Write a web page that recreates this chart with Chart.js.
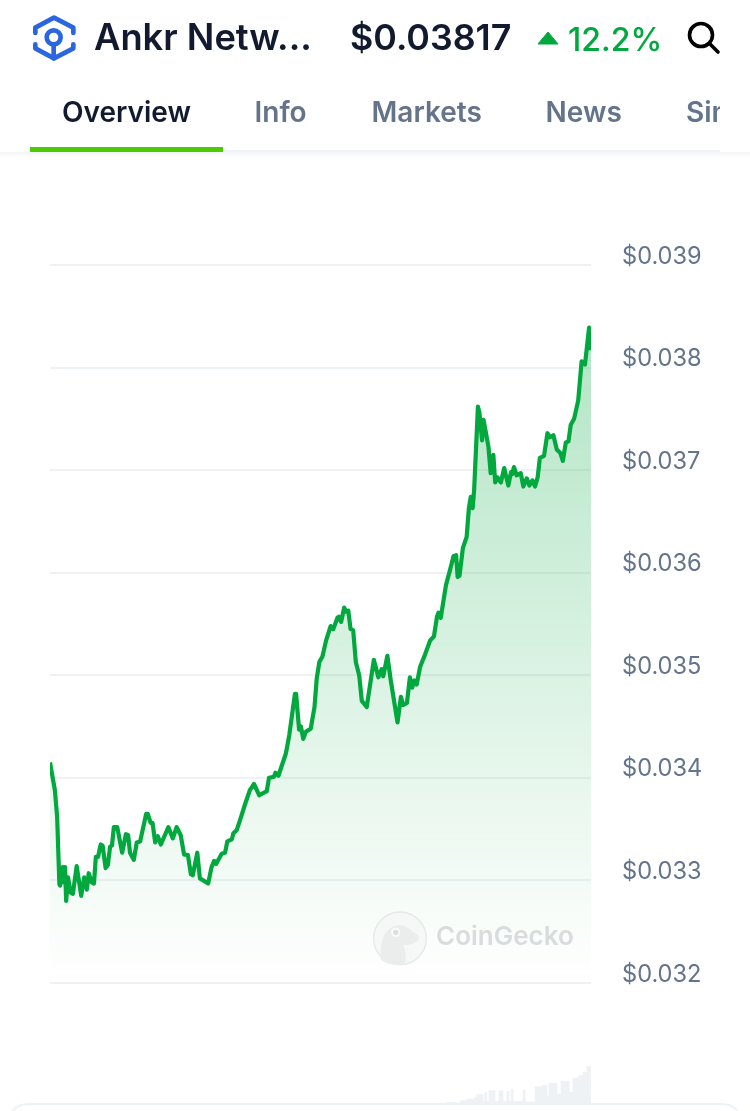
<!DOCTYPE html>
<html>
<head>
<meta charset="utf-8">
<title>Ankr Network</title>
<script src="https://cdn.jsdelivr.net/npm/chart.js@4/dist/chart.umd.min.js"></script>
<style>
  html, body { margin: 0; padding: 0; background: #fff; }
  body { width: 750px; height: 1111px; position: relative; overflow: hidden; font-family: Inter, sans-serif; }
  .abs { position: absolute; white-space: nowrap; }
  #chartBox { position: absolute; left: 0; top: 0; width: 750px; height: 1111px; }
  .tab { position: absolute; top: 95px; font-size: 28px; line-height: 34px; font-weight: 600; color: #64748b; white-space: nowrap; }
  #tabClip { position: absolute; left: 0; top: 0; width: 720px; height: 150px; overflow: hidden; }
  #headLine { position: absolute; left: 30px; top: 150px; width: 690px; height: 2px; background: #eff2f5; }
  #headShadow { position: absolute; left: 0; top: 152px; width: 750px; height: 6px; background: linear-gradient(#f3f4f6, #fff); }
  #activeLine { position: absolute; left: 30px; top: 147px; width: 193px; height: 5px; background: #4bcc00; }
  #bottomCard { position: absolute; left: 6px; top: 1103px; width: 734px; height: 40px; border: 2px solid #eff2f5; border-radius: 24px; background: #fff; }
</style>
</head>
<body>
<div id="chartBox"><canvas id="priceChart"></canvas></div>

<svg class="abs" style="left:20px;top:5px" width="70" height="70" viewBox="0 0 210 210" fill="none" stroke="#2b66e0" stroke-width="14" stroke-linecap="round" stroke-linejoin="round">
  <path d="M46 84V68L102 38L160 68V84"/>
  <path d="M46 118V130L102 160L160 130V118"/>
  <circle cx="101" cy="97" r="21"/>
  <path d="M101 118V160"/>
</svg>
<div class="abs" style="left:94px;top:15px;font-size:36.3px;line-height:44px;font-weight:600;color:#111a2e">Ankr Netw...</div>
<div class="abs" style="left:350px;top:15px;font-size:35.8px;line-height:44px;font-weight:600;color:#111a2e">$0.03817</div>
<svg class="abs" style="left:537px;top:31px" width="22" height="14" viewBox="0 0 22 14"><path d="M11 1L21 13H1Z" fill="#00a83e" stroke="#00a83e" stroke-width="1" stroke-linejoin="round"/></svg>
<div class="abs" style="left:568px;top:20px;font-size:32px;line-height:40px;font-weight:500;color:#00a83e">12.2%</div>
<svg class="abs" style="left:685px;top:20px" width="36" height="36" viewBox="0 0 36 36" fill="none" stroke="#000" stroke-width="3.6" stroke-linecap="round"><circle cx="16" cy="15" r="11.5"/><path d="M24.5 23.5L33 32"/></svg>

<div id="tabClip">
  <div class="tab" style="left:62px;color:#111a2e">Overview</div>
  <div class="tab" style="left:254.5px">Info</div>
  <div class="tab" style="left:371.5px">Markets</div>
  <div class="tab" style="left:545.5px">News</div>
  <div class="tab" style="left:686px">Simulator</div>
</div>
<div id="headShadow"></div>
<div id="headLine"></div>
<div id="activeLine"></div>

<svg class="abs" style="left:365px;top:905px" width="70" height="65" viewBox="0 0 210 195">
  <circle cx="105" cy="100" r="79" fill="#f4f6f5" fill-opacity="0.75" stroke="#e6e8e8" stroke-width="4"/>
  <path d="M47 162C45 112 56 72 90 62C115 55 130 70 150 85C166 92 166 106 150 113C132 122 122 118 115 120C125 145 124 168 118 178C92 182 62 178 47 162Z" fill="#ebeded"/>
  <circle cx="92" cy="82" r="14" fill="#f8f9f9"/>
  <circle cx="92" cy="82" r="8" fill="#dcdfdf"/>
</svg>
<div class="abs" style="left:436px;top:919px;font-size:26px;line-height:34px;font-weight:600;color:#d9dcdc">CoinGecko</div>

<div id="bottomCard"></div>

<script>
// minutes since the start of the 24h window
const times = [0, 13, 19, 25, 27, 34, 37, 40, 43, 48, 55, 61, 71, 83, 91, 98, 103, 111, 117, 122, 128, 135, 140, 148, 154, 160, 165, 170, 179, 192, 202, 208, 213, 223, 231, 240, 256, 260, 268, 273, 280, 287, 295, 315, 327, 337, 348, 357, 367, 375, 380, 392, 399, 421, 430, 437, 442, 457, 466, 472, 484, 488, 497, 506, 519, 532, 543, 557, 577, 583, 596, 600, 608, 628, 637, 652, 655, 663, 668, 674, 681, 694, 704, 710, 717, 725, 735, 747, 754, 765, 769, 775, 783, 788, 794, 800, 807, 814, 823, 830, 843, 862, 874, 883, 887, 898, 907, 925, 934, 940, 950, 958, 964, 970, 976, 985, 998, 1012, 1022, 1030, 1034, 1040, 1054, 1065, 1074, 1081, 1085, 1090, 1099, 1109, 1115, 1120, 1125, 1129, 1139, 1143, 1150, 1154, 1167, 1173, 1180, 1185, 1191, 1200, 1209, 1214, 1220, 1227, 1230, 1235, 1242, 1253, 1260, 1269, 1276, 1284, 1291, 1298, 1304, 1315, 1324, 1331, 1340, 1349, 1358, 1365, 1373, 1380, 1386, 1395, 1406, 1415, 1424, 1435, 1440];

const prices = [0.03415, 0.03388, 0.03362, 0.03296, 0.03295, 0.03313, 0.03298, 0.03313, 0.0328, 0.03303, 0.03288, 0.03287, 0.03314, 0.03285, 0.03303, 0.03291, 0.03307, 0.03298, 0.03297, 0.03323, 0.03323, 0.03335, 0.03334, 0.03312, 0.03315, 0.03333, 0.03334, 0.03352, 0.03352, 0.03327, 0.03345, 0.03344, 0.03327, 0.0332, 0.03337, 0.03338, 0.03365, 0.03365, 0.03356, 0.03356, 0.03337, 0.03343, 0.03335, 0.03352, 0.03341, 0.03352, 0.03344, 0.03325, 0.03325, 0.03306, 0.03305, 0.03327, 0.03302, 0.03297, 0.03313, 0.03319, 0.03316, 0.03326, 0.03327, 0.03338, 0.0334, 0.03346, 0.03349, 0.03359, 0.03374, 0.03388, 0.03394, 0.03383, 0.03387, 0.034, 0.03401, 0.03405, 0.03402, 0.03424, 0.03442, 0.03482, 0.03482, 0.03447, 0.0345, 0.03438, 0.03445, 0.03448, 0.03469, 0.03497, 0.03513, 0.03518, 0.03534, 0.03548, 0.03545, 0.03556, 0.03557, 0.03552, 0.03566, 0.03562, 0.03563, 0.03545, 0.03544, 0.03513, 0.035, 0.03475, 0.03469, 0.03515, 0.03498, 0.03506, 0.03499, 0.03519, 0.03495, 0.03454, 0.03479, 0.03471, 0.03473, 0.03498, 0.03488, 0.03495, 0.03491, 0.03508, 0.0352, 0.03534, 0.03538, 0.03557, 0.03561, 0.03556, 0.03588, 0.03603, 0.03616, 0.03617, 0.03596, 0.03597, 0.03624, 0.03635, 0.03663, 0.03674, 0.03663, 0.03681, 0.03762, 0.03756, 0.03729, 0.03749, 0.03723, 0.03697, 0.03715, 0.03688, 0.03693, 0.03688, 0.03702, 0.03694, 0.03685, 0.03698, 0.03696, 0.03703, 0.03695, 0.03697, 0.03684, 0.03692, 0.03685, 0.0369, 0.03684, 0.03693, 0.03712, 0.03714, 0.03736, 0.03732, 0.03734, 0.0372, 0.03717, 0.03709, 0.03727, 0.03728, 0.03744, 0.0375, 0.03768, 0.03806, 0.03803, 0.03839, 0.03817];

const volumeTimes = [1059, 1064, 1070, 1075, 1080, 1086, 1091, 1096, 1102, 1107, 1112, 1118, 1123, 1128, 1134, 1139, 1144, 1150, 1155, 1160, 1166, 1171, 1176, 1182, 1187, 1192, 1198, 1203, 1208, 1214, 1219, 1224, 1230, 1235, 1240, 1246, 1251, 1256, 1262, 1267, 1272, 1278, 1283, 1288, 1294, 1299, 1304, 1310, 1315, 1320, 1326, 1331, 1336, 1342, 1347, 1352, 1358, 1363, 1368, 1374, 1379, 1384, 1390, 1395, 1400, 1406, 1411, 1416, 1422, 1427, 1432, 1438];

const volumes = [5, 5, 5, 5, 3, 3, 3, 10, 10, 10, 15, 15, 15, 15, 20, 28, 28, 28, 8, 35, 8, 40, 40, 40, 8, 8, 40, 40, 8, 8, 38, 8, 45, 8, 8, 8, 8, 8, 42, 6, 6, 6, 6, 6, 52, 52, 52, 52, 56, 56, 25, 62, 62, 62, 62, 30, 30, 68, 68, 68, 68, 35, 35, 78, 78, 78, 85, 85, 95, 95, 112, 112];

const tickValues = [0.032, 0.033, 0.034, 0.035, 0.036, 0.037, 0.038, 0.039];

const lineData = times.map((t, i) => ({ x: t, y: prices[i] }));
const barData = volumeTimes.map((t, i) => ({ x: t, y: volumes[i] }));

function areaGradient(context) {
    const chart = context.chart;
    if (!chart.chartArea) return 'rgba(0, 168, 62, 0.1)';
    const yScale = chart.scales.y;
    const g = chart.ctx.createLinearGradient(0, yScale.getPixelForValue(0.0384), 0, yScale.getPixelForValue(0.032));
    g.addColorStop(0, 'rgba(0, 168, 62, 0.3)');
    g.addColorStop(1, 'rgba(0, 168, 62, 0)');
    return g;
}

Chart.defaults.animation = false;

const ctx = document.getElementById('priceChart').getContext('2d');
const priceChart = new Chart(ctx, {
    data: {
        datasets: [{
            type: 'line',
            data: lineData,
            yAxisID: 'y',
            borderColor: '#00a83e',
            borderWidth: 4.2,
            borderJoinStyle: 'round',
            backgroundColor: areaGradient,
            fill: { value: 0.032 },
            pointRadius: 0,
            tension: 0,
            order: 1
        }, {
            type: 'bar',
            data: barData,
            yAxisID: 'vol',
            backgroundColor: '#eff2f5',
            barThickness: 2.2,
            order: 2
        }]
    },
    options: {
        responsive: true,
        maintainAspectRatio: false,
        parsing: false,
        layout: { autoPadding: false, padding: { left: 50, top: 265, right: 0, bottom: 7 } },
        plugins: { legend: { display: false }, tooltip: { enabled: false } },
        scales: {
            x: {
                type: 'linear',
                offset: false,
                min: 0,
                max: 1440,
                display: false
            },
            y: {
                position: 'right',
                min: 0.03082,
                max: 0.039,
                afterBuildTicks: function(axis) {
                    axis.ticks = tickValues.map(v => ({ value: v }));
                },
                afterFit: function(axis) {
                    axis.width = 159;
                    axis.paddingTop = 0;
                    axis.paddingBottom = 0;
                },
                border: { display: false },
                grid: { color: '#eff2f5', lineWidth: 2, drawTicks: false },
                ticks: {
                    padding: 31,
                    labelOffset: -8.5,
                    color: '#64748b',
                    font: { family: 'Inter', size: 23.6, weight: 400 },
                    callback: function(value) {
                        return '$' + value.toFixed(3);
                    }
                }
            },
            vol: {
                display: false,
                min: 0,
                max: 2517
            }
        }
    }
});
</script>
</body>
</html>
